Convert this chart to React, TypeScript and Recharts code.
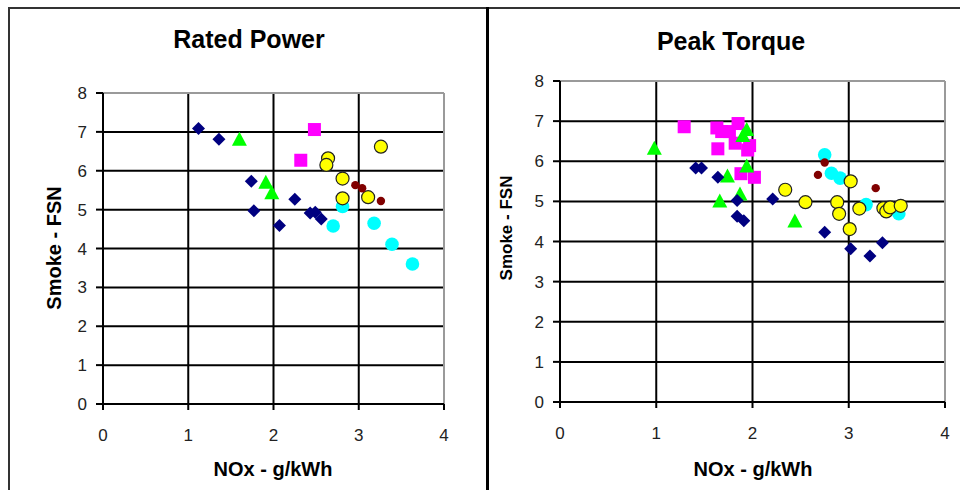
import { ScatterChart, Scatter, XAxis, YAxis, CartesianGrid, ReferenceLine } from "recharts";

const fontFamily = '"Liberation Sans", Arial, Helvetica, sans-serif';

const xTicks = [0, 1, 2, 3, 4];
const yTicks = [0, 1, 2, 3, 4, 5, 6, 7, 8];

// Rated Power
const ratedDiamonds = [
  { x: 1.12, y: 7.09 }, { x: 1.36, y: 6.81 }, { x: 1.74, y: 5.73 }, { x: 1.77, y: 4.97 },
  { x: 2.07, y: 4.59 }, { x: 2.25, y: 5.27 }, { x: 2.43, y: 4.91 }, { x: 2.49, y: 4.93 },
  { x: 2.56, y: 4.76 },
];
const ratedTriangles = [{ x: 1.6, y: 6.8 }, { x: 1.91, y: 5.69 }, { x: 1.98, y: 5.42 }];
const ratedSquares = [{ x: 2.48, y: 7.06 }, { x: 2.32, y: 6.27 }];
const ratedCyan = [
  { x: 2.81, y: 5.08 }, { x: 2.7, y: 4.58 }, { x: 3.18, y: 4.65 }, { x: 3.39, y: 4.11 }, { x: 3.63, y: 3.6 },
];
const ratedYellow = [
  { x: 3.26, y: 6.62 }, { x: 2.64, y: 6.32 }, { x: 2.62, y: 6.15 }, { x: 2.81, y: 5.8 },
  { x: 2.81, y: 5.29 }, { x: 3.11, y: 5.32 },
];
const ratedRed = [{ x: 2.96, y: 5.63 }, { x: 3.04, y: 5.55 }, { x: 3.26, y: 5.22 }];

// Peak Torque
const peakDiamonds = [
  { x: 1.41, y: 5.83 }, { x: 1.47, y: 5.83 }, { x: 1.64, y: 5.6 }, { x: 1.84, y: 5.02 },
  { x: 1.84, y: 4.63 }, { x: 1.91, y: 4.52 }, { x: 2.21, y: 5.06 }, { x: 2.75, y: 4.23 },
  { x: 3.02, y: 3.82 }, { x: 3.22, y: 3.64 }, { x: 3.35, y: 3.97 },
];
const peakTriangles = [
  { x: 0.98, y: 6.31 }, { x: 1.94, y: 6.78 }, { x: 1.9, y: 6.63 }, { x: 1.94, y: 5.87 },
  { x: 1.74, y: 5.62 }, { x: 1.87, y: 5.17 }, { x: 1.66, y: 5.0 }, { x: 2.44, y: 4.5 },
];
const peakSquares = [
  { x: 1.29, y: 6.86 }, { x: 1.63, y: 6.83 }, { x: 1.68, y: 6.74 }, { x: 1.76, y: 6.74 },
  { x: 1.85, y: 6.94 }, { x: 1.64, y: 6.31 }, { x: 1.82, y: 6.45 }, { x: 1.97, y: 6.39 },
  { x: 1.95, y: 6.28 }, { x: 1.88, y: 5.69 }, { x: 2.02, y: 5.6 },
];
const peakCyan = [
  { x: 2.75, y: 6.16 }, { x: 2.82, y: 5.7 }, { x: 2.91, y: 5.58 }, { x: 3.18, y: 4.92 }, { x: 3.52, y: 4.69 },
];
const peakYellow = [
  { x: 2.34, y: 5.29 }, { x: 2.55, y: 4.98 }, { x: 2.88, y: 4.98 }, { x: 2.9, y: 4.69 },
  { x: 3.02, y: 5.5 }, { x: 3.01, y: 4.31 }, { x: 3.11, y: 4.82 }, { x: 3.36, y: 4.83 },
  { x: 3.39, y: 4.75 }, { x: 3.43, y: 4.85 }, { x: 3.54, y: 4.89 },
];
const peakRed = [{ x: 2.75, y: 5.97 }, { x: 2.68, y: 5.66 }, { x: 3.28, y: 5.33 }];

const diamond = (p: any) => {
  const r = 6.5;
  return <polygon points={`${p.cx},${p.cy - r} ${p.cx + r},${p.cy} ${p.cx},${p.cy + r} ${p.cx - r},${p.cy}`} fill="#000080" />;
};
const square = (p: any) => <rect x={p.cx - 6.5} y={p.cy - 6.5} width={13} height={13} fill="#ff00ff" />;
const triangle = (p: any) => (
  <polygon points={`${p.cx},${p.cy - 8} ${p.cx + 7.5},${p.cy + 6} ${p.cx - 7.5},${p.cy + 6}`} fill="#00ff00" />
);
const cyanDot = (p: any) => <circle cx={p.cx} cy={p.cy} r={6.8} fill="#00ffff" />;
const yellowDot = (p: any) => <circle cx={p.cx} cy={p.cy} r={6.5} fill="#ffff00" stroke="#222" strokeWidth={1.2} />;
const redDot = (p: any) => <circle cx={p.cx} cy={p.cy} r={4.2} fill="#800000" />;

const tickStyle = { fill: "#222", fontSize: 17, fontFamily };

function Panel(props: {
  left: number; width: number; top: number; bottom: number; yAxisWidth: number; right: number;
  title: string; titleX: number; titleY: number; yLabelX: number; yLabelY: number; yLabelSize: number;
  labelX: number; data: any[][];
}) {
  const [dia, tri, sq, cy, ye, rd] = props.data;
  return (
    <div style={{ position: "absolute", left: props.left, top: 0, width: props.width, height: 490 }}>
      <div style={{ position: "absolute", left: props.titleX - 150, top: props.titleY - 15, width: 300, textAlign: "center", fontFamily, fontWeight: "bold", fontSize: 25, lineHeight: "30px" }}>
        {props.title}
      </div>
      <div style={{ position: "absolute", left: props.yLabelX - 100, top: props.yLabelY - 12, width: 200, textAlign: "center", fontFamily, fontWeight: "bold", fontSize: props.yLabelSize, lineHeight: "24px", transform: "rotate(-90deg)" }}>
        Smoke - FSN
      </div>
      <div style={{ position: "absolute", left: props.labelX - 100, top: 457, width: 200, textAlign: "center", fontFamily, fontWeight: "bold", fontSize: 20, lineHeight: "24px" }}>
        NOx - g/kWh
      </div>
      <ScatterChart width={props.width} height={490} margin={{ top: props.top, right: props.right, bottom: 0, left: 0 }}>
        <CartesianGrid stroke="#000" strokeWidth={2} />
        <XAxis type="number" dataKey="x" domain={[0, 4]} ticks={xTicks} height={490 - props.bottom} axisLine={{ stroke: "#000", strokeWidth: 2 }} tickLine={{ stroke: "#000", strokeWidth: 2 }} tickSize={6} tickMargin={19} tick={tickStyle} interval={0} />
        <YAxis type="number" dataKey="y" domain={[0, 8]} ticks={yTicks} width={props.yAxisWidth} axisLine={{ stroke: "#000", strokeWidth: 2 }} tickLine={{ stroke: "#000", strokeWidth: 2 }} tickSize={7} tickMargin={9} tick={tickStyle} interval={0} />
        <ReferenceLine y={8} stroke="#9a9a9a" strokeWidth={2} />
        <ReferenceLine x={4} stroke="#9a9a9a" strokeWidth={2} />
        <Scatter data={sq} shape={square} isAnimationActive={false} />
        <Scatter data={tri} shape={triangle} isAnimationActive={false} />
        <Scatter data={dia} shape={diamond} isAnimationActive={false} />
        <Scatter data={cy} shape={cyanDot} isAnimationActive={false} />
        <Scatter data={ye} shape={yellowDot} isAnimationActive={false} />
        <Scatter data={rd} shape={redDot} isAnimationActive={false} />
      </ScatterChart>
    </div>
  );
}

export default function App() {
  return (
    <div style={{ position: "absolute", left: 0, top: 0, width: 960, height: 490, background: "#fff", overflow: "hidden" }}>
      <div style={{ position: "absolute", left: 8, top: 7, width: 952, height: 2, background: "#333" }} />
      <div style={{ position: "absolute", left: 8, top: 7, width: 2, height: 483, background: "#333" }} />
      <div style={{ position: "absolute", left: 486, top: 7, width: 3, height: 483, background: "#000" }} />
      <Panel
        left={0} width={486} top={93} bottom={404} yAxisWidth={103} right={42}
        title="Rated Power" titleX={249} titleY={39} yLabelX={54} yLabelY={248} yLabelSize={20} labelX={273}
        data={[ratedDiamonds, ratedTriangles, ratedSquares, ratedCyan, ratedYellow, ratedRed]}
      />
      <Panel
        left={489} width={471} top={81} bottom={402} yAxisWidth={71} right={15}
        title="Peak Torque" titleX={242} titleY={41} yLabelX={18} yLabelY={228} yLabelSize={17} labelX={264}
        data={[peakDiamonds, peakTriangles, peakSquares, peakCyan, peakYellow, peakRed]}
      />
    </div>
  );
}
